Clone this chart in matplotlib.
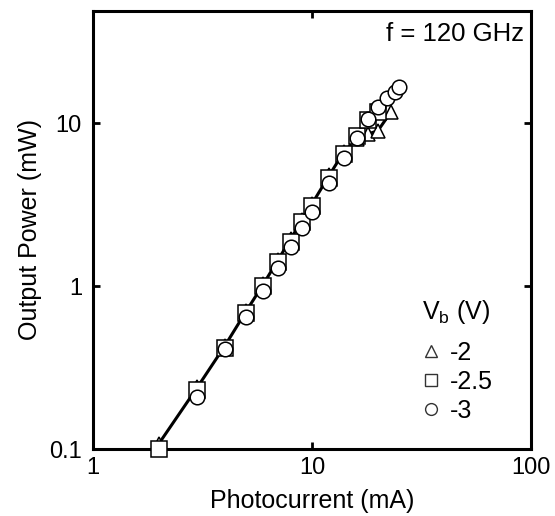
import matplotlib
matplotlib.use("Agg")
import matplotlib.pyplot as plt
from matplotlib.lines import Line2D

plt.rcParams['font.family'] = ['Liberation Sans', 'DejaVu Sans']
plt.rcParams['mathtext.fontset'] = 'custom'
plt.rcParams['mathtext.rm'] = 'Liberation Sans'
plt.rcParams['mathtext.it'] = 'Liberation Sans'

# Vb = -2 V (triangles, connected by line)
I_tri = [2, 3, 4, 5, 6, 7, 8, 9, 10, 12, 14, 16, 18, 20, 23]
P_tri = [0.108, 0.24, 0.43, 0.70, 1.03, 1.45, 1.95, 2.55, 3.2, 4.8, 6.7, 8.0, 8.6, 9.0, 11.8]
# Vb = -2.5 V (squares)
I_sq = [2, 3, 4, 5, 6, 7, 8, 9, 10, 12, 14, 16, 18, 20]
P_sq = [0.1, 0.23, 0.42, 0.68, 1.0, 1.4, 1.87, 2.47, 3.1, 4.6, 6.5, 8.4, 10.5, 11.8]
# Vb = -3 V (circles)
I_ci = [3, 4, 5, 6, 7, 8, 9, 10, 12, 14, 16, 18, 20, 22, 24, 25]
P_ci = [0.21, 0.41, 0.65, 0.94, 1.29, 1.73, 2.27, 2.84, 4.28, 6.1, 8.1, 10.6, 12.6, 14.3, 15.6, 16.6]

labels = ['-2', '-2.5', '-3']
xticks = [1, 10, 100]
xticklabels = ['1', '10', '100']
yticks = [0.1, 1, 10]
yticklabels = ['0.1', '1', '10']

fig = plt.figure(figsize=(5.55, 5.16), dpi=100)
ax = fig.add_axes([0.1676, 0.1298, 0.789, 0.849])

ax.plot(I_tri, P_tri, '-^', color='black', lw=2.2, ms=10, mfc='white', mec='black', mew=1.1,
        zorder=2, clip_on=False)
ax.plot(I_sq, P_sq, 's', ms=11, mfc='white', mec='black', mew=1.1, ls='none', zorder=3, clip_on=False)
ax.plot(I_ci, P_ci, 'o', ms=10.5, mfc='white', mec='black', mew=1.1, ls='none', zorder=4, clip_on=False)

ax.set_xscale('log')
ax.set_yscale('log')
ax.set_xlim(1, 100)
ax.set_ylim(0.1, 49)
ax.set_xticks(xticks)
ax.set_xticklabels(xticklabels)
ax.set_yticks(yticks)
ax.set_yticklabels(yticklabels)
ax.minorticks_off()
ax.tick_params(which='major', direction='in', length=5, width=2, top=True, right=True,
               labelsize=17, color='black')
ax.tick_params(axis='y', pad=8)
ax.tick_params(axis='x', pad=6)
for s in ax.spines.values():
    s.set_linewidth(2.2)
    s.set_zorder(1)

ax.set_xlabel('Photocurrent (mA)', fontsize=18, labelpad=7)
ax.set_ylabel('Output Power (mW)', fontsize=18, labelpad=5)

ax.text(0.985, 0.975, 'f = 120 GHz', transform=ax.transAxes, ha='right', va='top', fontsize=18.5)

handles = [
    Line2D([], [], marker='^', ls='none', ms=8.5, mfc='white', mec='#333333', mew=1.0),
    Line2D([], [], marker='s', ls='none', ms=8.5, mfc='white', mec='#333333', mew=1.0),
    Line2D([], [], marker='o', ls='none', ms=8.5, mfc='white', mec='#333333', mew=1.0),
]
leg = ax.legend(handles, labels, title=r'V$_\mathregular{b}$ (V)', loc='upper left',
                bbox_to_anchor=(0.712, 0.385), frameon=False, fontsize=18,
                title_fontsize=18, handlelength=0.7, handletextpad=0.4,
                labelspacing=0.2, borderpad=0.2)
leg._legend_box.align = 'left'
leg._legend_box.sep = 11

fig.savefig('out.png', dpi=100)
